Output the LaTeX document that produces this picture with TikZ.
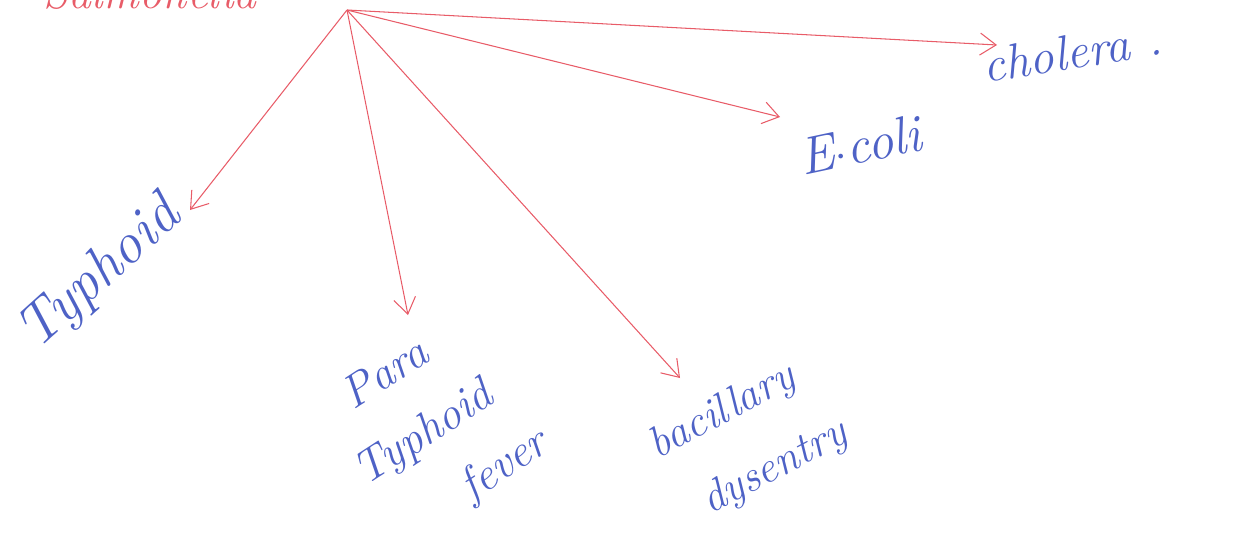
\documentclass[tikz,border=0pt]{standalone}
\usepackage{tikz}
\usetikzlibrary{arrows.meta}

\definecolor{penred}{RGB}{232,92,104}
\definecolor{penblue}{RGB}{78,98,198}

\tikzset{
  germ/.style={text=penblue, font=\itshape\fontsize{26}{40}\selectfont, inner sep=0pt, align=center},
  pointer/.style={draw=penred, line width=0.6pt, -{Straight Barb[length=3.2mm,width=4.4mm]}},
}

\begin{document}
\begin{tikzpicture}[x=0.02cm, y=-0.02cm]
  \useasboundingbox (0,0) rectangle (1240,545);
  \clip (0,0) rectangle (1240,545);
  \node[text=penred, font=\itshape\fontsize{26}{28}\selectfont, anchor=south] (source) at (150,16) {Salmonella};
  \coordinate (hub) at (347,10);
  \coordinate (tocholera) at (997,45);
  \coordinate (toecoli) at (780,117);
  \coordinate (totyphoid) at (190,210);
  \coordinate (topara) at (408,315);
  \coordinate (tobacil) at (680,378);
  \node[germ, rotate=9, font=\itshape\fontsize{28}{30}\selectfont] (cholera) at (1072,52) {cholera .};
  \node[germ, rotate=12, font=\itshape\fontsize{30}{32}\selectfont] (ecoli) at (860,145) {E$\cdot$coli};
  \node[germ, rotate=42, font=\itshape\fontsize{33}{35}\selectfont] (typhoid) at (100,275) {Typhoid};
  \node[germ, rotate=33] (paratyphoid) at (425,435) {Para\\Typhoid\\\hspace*{2cm}fever};
  \node[germ, rotate=28, font=\itshape\fontsize{25}{42}\selectfont] (bacillary) at (740,445) {bacillary\\\hspace*{0.8cm}dysentry};
  \draw[pointer] (hub) -- (tocholera);
  \draw[pointer] (hub) -- (toecoli);
  \draw[pointer] (hub) -- (totyphoid);
  \draw[pointer] (hub) -- (topara);
  \draw[pointer] (hub) -- (tobacil);
\end{tikzpicture}
\end{document}
